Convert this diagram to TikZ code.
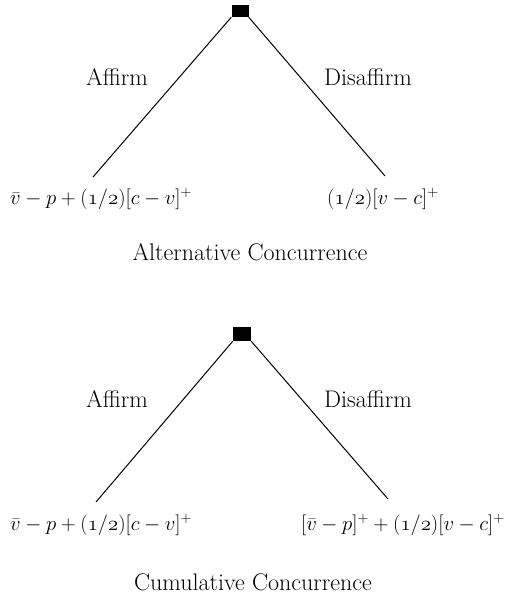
\documentclass[tikz,border=0pt]{standalone}
\usepackage{amsmath}
\newcommand{\hlf}{(\oldstylenums{1}/\oldstylenums{2})}
\tikzset{
  mover/.style={fill=black,inner sep=0pt,minimum width=17pt,minimum height=12pt},
  branch/.style={line width=1pt},
  lbl/.style={inner sep=0pt,font=\fontsize{24}{28}\selectfont},
  pay/.style={inner sep=0pt,font=\fontsize{21.4}{25}\selectfont},
}
\begin{document}
\begin{tikzpicture}[x=1pt,y=-1pt]
	\useasboundingbox (0,0) rectangle (505,596);
	% alternative concurrence
	\node[mover] (r1) at (240,11) {};
	\coordinate (a1) at (93,177);
	\coordinate (d1) at (385,176);
	\draw[branch] (r1.south west) -- (a1);
	\draw[branch] (r1.south east) -- (d1);
	\node[lbl] (af1) at (117,77) {Affirm};
	\node[lbl] (di1) at (368,77) {Disaffirm};
	\node[pay,anchor=west] (pa1) at (10,199) {$\bar{v}-p+\hlf[c-v]^{+}$};
	\node[pay,anchor=west] (pd1) at (327,199) {$\hlf[v-c]^{+}$};
	\node[lbl] (t1) at (250,252) {Alternative Concurrence};

	% cumulative concurrence
	\node[mover,minimum width=18pt,minimum height=14pt] (r2) at (242,334) {};
	\coordinate (a2) at (96,502);
	\coordinate (d2) at (388,499);
	\draw[branch] (r2.south west) -- (a2);
	\draw[branch] (r2.south east) -- (d2);
	\node[lbl] (af2) at (117,399) {Affirm};
	\node[lbl] (di2) at (368,399) {Disaffirm};
	\node[pay,anchor=west] (pa2) at (10,525) {$\bar{v}-p+\hlf[c-v]^{+}$};
	\node[pay,anchor=east] (pd2) at (505,525) {$[\bar{v}-p]^{+}+\hlf[v-c]^{+}$};
	\node[lbl] (t2) at (253,582) {Cumulative Concurrence};
\end{tikzpicture}
\end{document}
